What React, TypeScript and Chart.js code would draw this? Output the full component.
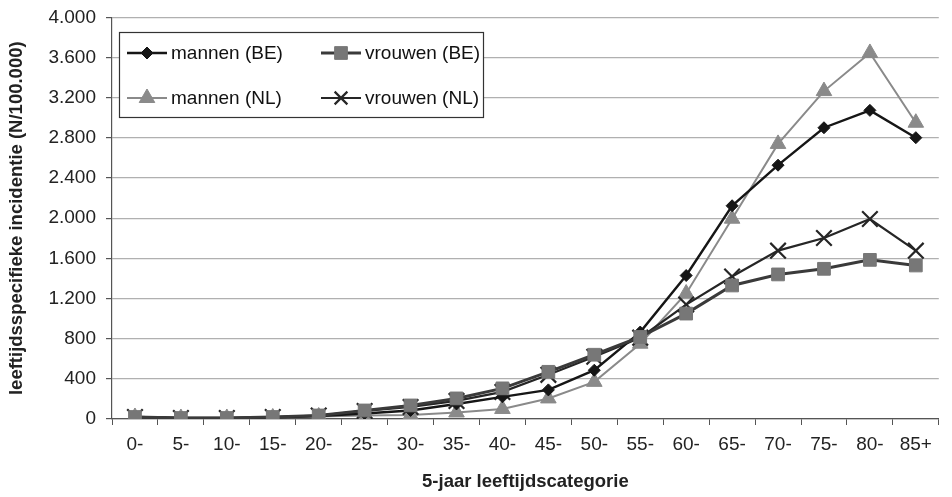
import React, { useEffect, useRef } from "react";
import { Chart, registerables } from "chart.js";

Chart.register(...registerables);

const categories = ["0-", "5-", "10-", "15-", "20-", "25-", "30-", "35-", "40-", "45-", "50-", "55-", "60-", "65-", "70-", "75-", "80-", "85+"];
const mannenBE = [20, 10, 10, 15, 30, 55, 85, 150, 221, 290, 486, 866, 1429, 2124, 2528, 2901, 3074, 2802];
const vrouwenBE = [20, 10, 10, 20, 35, 85, 135, 205, 305, 470, 640, 817, 1050, 1330, 1440, 1496, 1585, 1529];
const mannenNL = [20, 10, 10, 15, 25, 35, 40, 65, 100, 205, 370, 750, 1250, 1995, 2740, 3266, 3646, 2951];
const vrouwenNL = [20, 10, 10, 20, 35, 80, 120, 180, 270, 440, 620, 810, 1140, 1419, 1677, 1803, 1992, 1677];
const yTicks = [0, 400, 800, 1200, 1600, 2000, 2400, 2800, 3200, 3600, 4000];

const FONT = "'Liberation Sans', Arial, sans-serif";
const SHIFT = 4;

function fmt(v: number): string {
  return String(v).replace(/\B(?=(\d{3})+(?!\d))/g, ".");
}

function marker(ctx: CanvasRenderingContext2D, style: string, x: number, y: number, r: number, fill: string, stroke: string, bw: number) {
  ctx.save();
  ctx.fillStyle = fill;
  ctx.strokeStyle = stroke;
  ctx.lineWidth = bw;
  ctx.beginPath();
  if (style === "rectRot") {
    ctx.moveTo(x, y - r); ctx.lineTo(x + r, y); ctx.lineTo(x, y + r); ctx.lineTo(x - r, y); ctx.closePath();
    ctx.fill(); ctx.stroke();
  } else if (style === "rect") {
    const s = r * Math.SQRT1_2;
    ctx.rect(x - s, y - s, 2 * s, 2 * s); ctx.fill(); ctx.stroke();
  } else if (style === "triangle") {
    ctx.moveTo(x, y - r); ctx.lineTo(x + r * 0.866, y + r * 0.5); ctx.lineTo(x - r * 0.866, y + r * 0.5); ctx.closePath();
    ctx.fill(); ctx.stroke();
  } else {
    const s = r * Math.SQRT1_2;
    ctx.moveTo(x - s, y - s); ctx.lineTo(x + s, y + s); ctx.moveTo(x + s, y - s); ctx.lineTo(x - s, y + s);
    ctx.stroke();
  }
  ctx.restore();
}

const legendPlugin = {
  id: "boxLegend",
  afterDraw(chart: any) {
    const ctx = chart.ctx;
    const x0 = 119, y0 = 32 + SHIFT, x1 = 483, y1 = 117 + SHIFT;
    ctx.save();
    ctx.fillStyle = "#ffffff";
    ctx.fillRect(x0, y0, x1 - x0, y1 - y0);
    ctx.strokeStyle = "#333";
    ctx.lineWidth = 1.2;
    ctx.strokeRect(x0 + 0.5, y0 + 0.5, x1 - x0, y1 - y0);
    const items = [
      { ds: 0, x: 127, y: 53 + SHIFT },
      { ds: 1, x: 321, y: 53 + SHIFT },
      { ds: 2, x: 127, y: 98 + SHIFT },
      { ds: 3, x: 321, y: 98 + SHIFT },
    ];
    items.forEach((it) => {
      const ds = chart.data.datasets[it.ds];
      ctx.strokeStyle = ds.borderColor;
      ctx.lineWidth = ds.borderWidth;
      ctx.beginPath();
      ctx.moveTo(it.x, it.y);
      ctx.lineTo(it.x + 40, it.y);
      ctx.stroke();
      marker(ctx, ds.pointStyle, it.x + 20, it.y, ds.pointStyle === "crossRot" ? 9 : ds.pointRadius, ds.pointBackgroundColor, ds.pointBorderColor, ds.pointBorderWidth);
      ctx.fillStyle = "#111";
      ctx.font = "19px " + FONT;
      ctx.textBaseline = "middle";
      ctx.textAlign = "left";
      ctx.fillText(ds.label, it.x + 44, it.y + 1);
    });
    ctx.restore();
  },
};

export default function App() {
  const ref = useRef<HTMLCanvasElement>(null);
  useEffect(() => {
    document.body.style.margin = "0";
    document.body.style.overflow = "hidden";
    const mk = (label: string, data: number[], line: string, fill: string, style: string, r: number, bw: number, pbw: number, order: number) => ({
      label,
      data,
      borderColor: line,
      borderWidth: bw,
      pointStyle: style,
      pointRadius: r,
      pointBackgroundColor: fill,
      pointBorderColor: style === "crossRot" ? line : fill,
      pointBorderWidth: pbw,
      tension: 0,
      order,
    });
    const chart = new Chart(ref.current!, {
      type: "line",
      data: {
        labels: categories,
        datasets: [
          mk("mannen (BE)", mannenBE, "#161616", "#161616", "rectRot", 6, 2.4, 1, 1),
          mk("vrouwen (BE)", vrouwenBE, "#3a3a3a", "#777777", "rect", 9, 3, 1, 0),
          mk("mannen (NL)", mannenNL, "#8a8a8a", "#8a8a8a", "triangle", 9, 2, 1, 3),
          mk("vrouwen (NL)", vrouwenNL, "#262626", "#262626", "crossRot", 11, 2.2, 2.2, 2),
        ] as any,
      },
      options: {
        animation: false,
        responsive: true,
        maintainAspectRatio: false,
        layout: { padding: { top: 1, right: 5, left: 0, bottom: 0 } },
        plugins: { legend: { display: false }, tooltip: { enabled: false } },
        scales: {
          x: {
            offset: true,
            grid: { offset: true, drawOnChartArea: false, drawTicks: true, tickLength: 6, color: "#555" },
            border: { color: "#555", width: 1.2 },
            ticks: { color: "#222", font: { family: FONT, size: 19 }, padding: 8, maxRotation: 0, autoSkip: false },
            title: { display: true, text: "5-jaar leeftijdscategorie", color: "#222", font: { family: FONT, size: 18.5, weight: "bold" }, padding: { top: 4, bottom: 4 } },
            afterFit: (s: any) => { s.height = 78; },
          },
          y: {
            min: 0,
            max: 4000,
            afterBuildTicks: (s: any) => { s.ticks = yTicks.map((v) => ({ value: v })); },
            ticks: { color: "#222", font: { family: FONT, size: 19 }, padding: 10, callback: (v: any) => fmt(Number(v)) },
            grid: { color: "#b0b0b0", lineWidth: 1.2, tickLength: 6, tickColor: "#555" },
            border: { color: "#555", width: 1.2 },
            title: { display: true, text: "leeftijdsspecifieke incidentie (N/100.000)", color: "#222", font: { family: FONT, size: 18.5, weight: "bold" }, padding: { top: 6, bottom: 0 } },
            afterFit: (s: any) => { s.width = 112; },
          },
        },
      },
      plugins: [legendPlugin],
    } as any);
    return () => chart.destroy();
  }, []);
  return (
    <div style={{ position: "relative", width: 952, height: 497, overflow: "hidden" }}>
      <div style={{ position: "absolute", left: 0, top: -SHIFT, width: 952, height: 497 + SHIFT }}>
        <canvas ref={ref} />
      </div>
    </div>
  );
}
